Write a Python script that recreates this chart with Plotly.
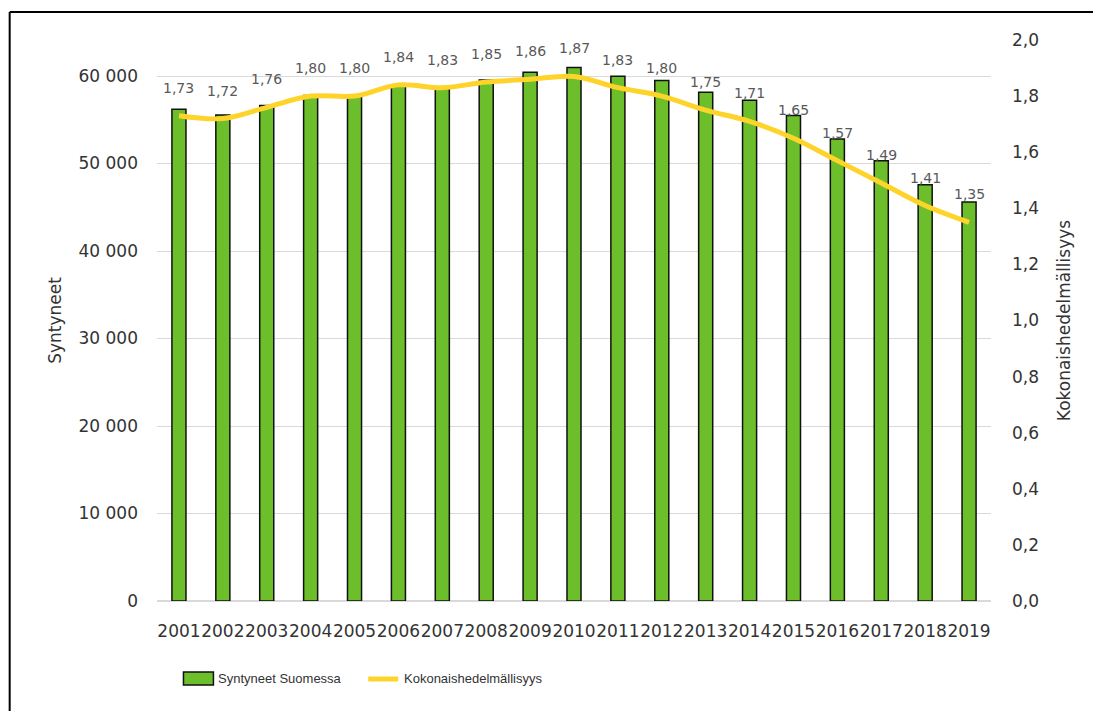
import plotly.graph_objects as go

years = ["2001", "2002", "2003", "2004", "2005", "2006", "2007", "2008", "2009", "2010",
         "2011", "2012", "2013", "2014", "2015", "2016", "2017", "2018", "2019"]
births = [56189, 55555, 56630, 57758, 57745, 58840, 58729, 59530, 60430, 60980,
          59961, 59493, 58134, 57232, 55472, 52814, 50321, 47577, 45613]
fertility = [1.73, 1.72, 1.76, 1.80, 1.80, 1.84, 1.83, 1.85, 1.86, 1.87,
             1.83, 1.80, 1.75, 1.71, 1.65, 1.57, 1.49, 1.41, 1.35]

bar_name = "Syntyneet Suomessa"
line_name = "Kokonaishedelmällisyys"
left_title = "Syntyneet"
right_title = "Kokonaishedelmällisyys"

GREEN = "#6cbf2a"
YELLOW = "#ffd42a"
FONT = "DejaVu Sans"
TXT = "#333333"

# page body has an 8px margin: figure is offset by (8, 8) in the window
OFF = 8
W, H = 1101 - OFF, 711 - OFF
# plot area in window pixels: x 156.5..991.5, y 40..601
L, R, T, B = 156.5 - OFF, 1101 - 991.5, 40 - OFF, 711 - 601
pw, ph = W - L - R, H - T - B


def px(x):
    """window pixel x -> paper fraction"""
    return (x - OFF - L) / pw


def py(y):
    """window pixel y -> paper fraction"""
    return (H - B - (y - OFF)) / ph


fig = go.Figure()
fig.add_trace(go.Bar(
    x=years, y=births, name=bar_name,
    marker=dict(color=GREEN, line=dict(color="#111111", width=1.5)),
    showlegend=False, yaxis="y",
))
fig.add_trace(go.Scatter(
    x=years, y=fertility, name=line_name, mode="lines",
    line=dict(color=YELLOW, width=5, shape="spline", smoothing=1.0),
    showlegend=False, yaxis="y2",
))

annotations = []
for i, v in enumerate(fertility):
    annotations.append(dict(
        x=i, y=v, xref="x", yref="y2", text=f"{v:.2f}".replace(".", ","),
        showarrow=False, yshift=28, font=dict(family=FONT, size=14, color="#595959"),
    ))

# legend (custom)
annotations.append(dict(x=px(216), y=py(678.5), xref="paper", yref="paper", text=bar_name,
                        xanchor="left", yanchor="middle", showarrow=False,
                        font=dict(family="Liberation Sans", size=13, color=TXT)))
annotations.append(dict(x=px(402), y=py(678.5), xref="paper", yref="paper", text=line_name,
                        xanchor="left", yanchor="middle", showarrow=False,
                        font=dict(family="Liberation Sans", size=13, color=TXT)))

shapes = [
    dict(type="rect", xref="paper", yref="paper", x0=px(183), x1=px(213), y0=py(685), y1=py(672),
         fillcolor=GREEN, line=dict(color="#111111", width=1.5)),
    dict(type="line", xref="paper", yref="paper", x0=px(368), x1=px(398), y0=py(679), y1=py(679),
         line=dict(color=YELLOW, width=5)),
    # outer frame
    dict(type="line", xref="paper", yref="paper", x0=px(9), x1=px(9), y0=py(12), y1=py(760),
         line=dict(color="#000000", width=2)),
    dict(type="line", xref="paper", yref="paper", x0=px(9), x1=px(1150), y0=py(12), y1=py(12),
         line=dict(color="#000000", width=2)),
]

fig.update_layout(
    width=W, height=H,
    margin=dict(l=L, r=R, t=T, b=B, pad=0),
    paper_bgcolor="white", plot_bgcolor="white",
    separators=", ",
    bargap=0.68,
    font=dict(family=FONT, color=TXT),
    annotations=annotations,
    shapes=shapes,
    xaxis=dict(type="category", range=[-0.5, len(years) - 0.5], tickangle=0, ticks="",
               showgrid=False, showline=False,
               tickfont=dict(family=FONT, size=17, color=TXT), ticklabelstandoff=18),
    yaxis=dict(range=[0, 64114], dtick=10000, tickformat=",d", showgrid=True,
               gridcolor="#d9d9d9", gridwidth=1, zeroline=True, zerolinecolor="#d9d9d9",
               zerolinewidth=1.5, ticks="", tickfont=dict(family=FONT, size=17, color=TXT),
               ticklabelstandoff=18,
               title=dict(text=left_title, font=dict(family=FONT, size=17, color=TXT), standoff=12)),
    yaxis2=dict(range=[0, 2.0], dtick=0.2, tickformat=".1f", overlaying="y", side="right",
                showgrid=False, zeroline=False, ticks="",
                tickfont=dict(family=FONT, size=17, color=TXT), ticklabelstandoff=20,
                title=dict(text=right_title, font=dict(family=FONT, size=17, color=TXT), standoff=20)),
)

fig.write_html("out.html")
